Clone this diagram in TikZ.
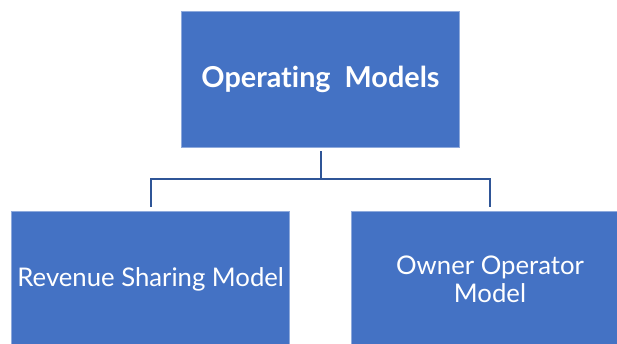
\documentclass[tikz,border=0pt]{standalone}
\usepackage{fontspec}
\setmainfont{Lato}[Ligatures=NoCommon]
\usetikzlibrary{positioning}

\definecolor{boxblue}{HTML}{4472C4}
\definecolor{boxedge}{HTML}{8FAADC}
\definecolor{linkblue}{HTML}{2F5597}

\begin{document}
\begin{tikzpicture}[%
    x=1pt, y=1pt,
    block/.style={
      rectangle,
      draw=boxedge,
      line width=0.6pt,
      fill=boxblue,
      text=white,
      align=center,
      inner sep=2pt,
      font=\fontsize{25.7}{28}\selectfont,
      minimum height=136pt,
      minimum width=278pt
    },
    link/.style={
      draw=linkblue,
      line width=2pt,
      shorten <=3.5pt,
      shorten >=3.5pt
    }
  ]
    \useasboundingbox (0,0) rectangle (617,-343);
    \begin{scope}
    \clip (0,0) rectangle (617,-343);
    \draw (320.5,-79.5) node[block, font=\fontsize{28.8}{32}\selectfont\bfseries] (models) {%
    Operating\ \ Models};
    \draw (150.7,-279) node[block] (revenue) {%
    Revenue Sharing Model};
    \draw (490,-279) node[block] (owner) {%
    Owner Operator\\ Model};

    % connectors
    \draw[link] (models.south) -- ++(0,-31.5) -| (revenue.north);
    \draw[link] (models.south) -- ++(0,-31.5) -| (owner.north);
    \end{scope}
  \end{tikzpicture}
\end{document}
